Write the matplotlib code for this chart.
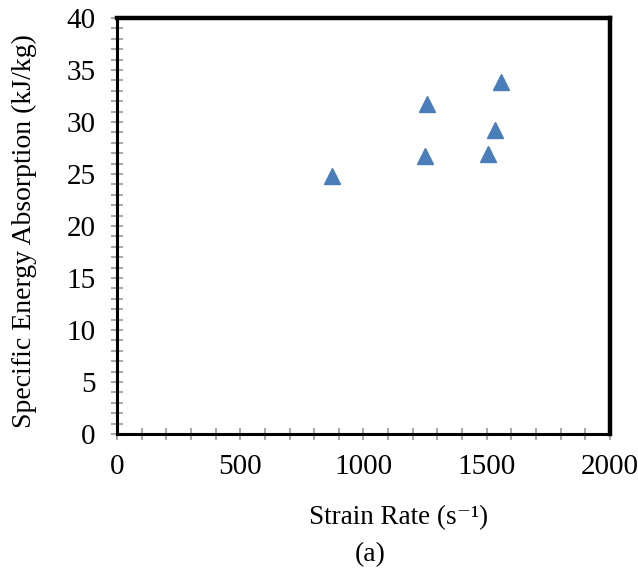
import matplotlib.pyplot as plt
from matplotlib.ticker import MultipleLocator

# data
strain_rate = [873, 1251, 1259, 1504, 1532, 1559]
sea = [24.8, 26.7, 31.7, 26.9, 29.2, 33.8]

x_ticks = [0, 500, 1000, 1500, 2000]
y_ticks = [0, 5, 10, 15, 20, 25, 30, 35, 40]

serif = ['Liberation Serif', 'DejaVu Serif']
plt.rcParams['font.family'] = serif

fig = plt.figure(figsize=(6.38, 5.71), dpi=100)
ax = fig.add_axes([0.1834, 0.240, 0.7726, 0.7285])

ax.plot(strain_rate, sea, linestyle='none', marker='^', markersize=12,
        color='#4a7ebb', markeredgecolor='#4a7ebb')

ax.set_xlim(0, 2000)
ax.set_ylim(0, 40)
ax.set_xticks(x_ticks)
ax.set_yticks(y_ticks)
ax.xaxis.set_minor_locator(MultipleLocator(100))
ax.yaxis.set_minor_locator(MultipleLocator(1))

for side in ['left', 'bottom']:
    ax.spines[side].set_linewidth(2.2)
    ax.spines[side].set_color('black')
for side in ['top', 'right']:
    ax.spines[side].set_linewidth(3.2)
    ax.spines[side].set_color('black')

ax.tick_params(which='both', direction='inout', color='#aaaaaa', width=1.5,
               length=9, labelsize=21)
ax.tick_params(axis='x', which='major', pad=10)
ax.tick_params(axis='y', which='major', pad=11)

fig.text(0.624, 0.094, 'Strain Rate (s\u207b\u00b9)', ha='center', va='center',
         fontsize=19.5, family=serif)
fig.text(0.580, 0.028, '(a)', ha='center', va='center', fontsize=20, family=serif)
fig.text(0.039, 0.595, 'Specific Energy Absorption (kJ/kg)', ha='center',
         va='center', rotation=90, fontsize=20, family=serif)

fig.savefig('out.png', dpi=100)
